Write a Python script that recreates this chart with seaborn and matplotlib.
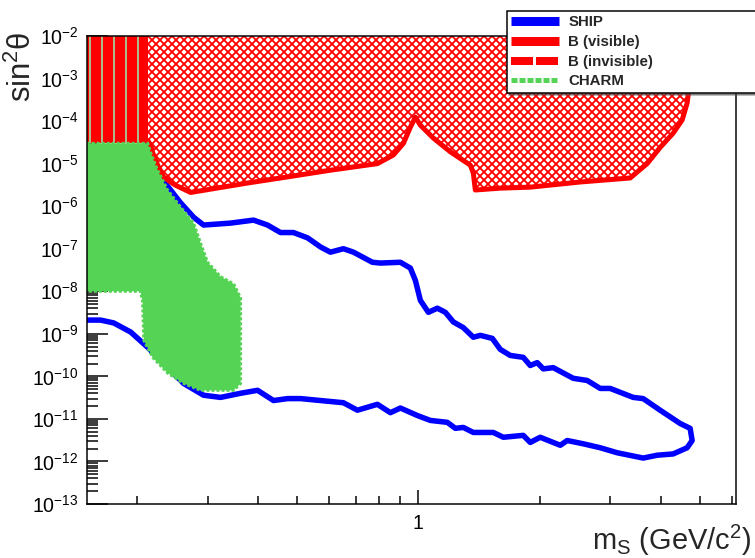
import numpy as np
import pandas as pd
import matplotlib
matplotlib.use("Agg")
import matplotlib.pyplot as plt
import seaborn as sns
from matplotlib.lines import Line2D
from matplotlib.ticker import (LogLocator, FuncFormatter, NullFormatter,
                               FixedLocator, FixedFormatter)

# SHIP sensitivity contour (closed curve: upper branch, then lower branch back)
ship_mass = [0.2127, 0.2188, 0.229, 0.2424, 0.2566, 0.2765, 0.2927, 0.3416, 0.3896, 0.422,
             0.4545, 0.4895, 0.5305, 0.5714, 0.6047, 0.6512, 0.6897, 0.7688, 0.8048, 0.9023,
             0.9553, 0.983, 1.0115, 1.0588, 1.1146, 1.1667, 1.2214, 1.2931, 1.3692, 1.4252,
             1.5262, 1.5977, 1.6916, 1.8217, 1.8961, 1.9735, 2.0424, 2.1627, 2.4244, 2.6263,
             2.8288, 2.9952, 3.4168, 3.6175, 3.9858, 4.4687, 4.7315, 4.7863,
             4.6513, 4.2937, 3.9183, 3.6175, 3.1174, 2.8288, 2.5668, 2.3427, 2.2511, 2.0075,
             1.8961, 1.8217, 1.6253, 1.535, 1.3692, 1.2931, 1.2355, 1.1801, 1.071, 0.9943,
             0.9023, 0.8522, 0.7911, 0.7056, 0.6512, 0.5714, 0.5096, 0.4731, 0.4367, 0.3986,
             0.3617, 0.3226, 0.2927, 0.2612, 0.2329, 0.2127, 0.1929, 0.1751, 0.1625, 0.15]
ship_sin2 = [3.0e-5, 1.6e-5, 4.8e-6, 2.4e-6, 1.2e-6, 5.5e-7, 3.6e-7, 4.0e-7, 4.7e-7, 3.6e-7,
             2.4e-7, 2.4e-7, 1.8e-7, 1.1e-7, 8.3e-8, 1.0e-7, 8.3e-8, 4.8e-8, 4.6e-8, 4.8e-8,
             3.5e-8, 1.8e-8, 6.1e-9, 3.2e-9, 4.0e-9, 3.2e-9, 1.9e-9, 1.4e-9, 8.3e-10, 9.2e-10,
             7.8e-10, 4.3e-10, 3.1e-10, 2.8e-10, 1.8e-10, 2.1e-10, 1.5e-10, 1.6e-10, 9.0e-11, 8.0e-11,
             5.2e-11, 5.2e-11, 3.2e-11, 3.0e-11, 1.6e-11, 7.8e-12, 6.0e-12, 3.1e-12,
             2.1e-12, 1.5e-12, 1.4e-12, 1.2e-12, 1.6e-12, 2.1e-12, 2.6e-12, 3.1e-12, 2.4e-12, 3.7e-12,
             2.8e-12, 4.1e-12, 3.7e-12, 4.8e-12, 4.8e-12, 6.3e-12, 6.0e-12, 8.3e-12, 9.2e-12, 1.2e-11,
             1.8e-11, 1.4e-11, 2.2e-11, 1.6e-11, 2.4e-11, 2.7e-11, 3.0e-11, 3.0e-11, 2.7e-11, 4.7e-11,
             4.0e-11, 3.2e-11, 3.6e-11, 6.8e-11, 2.0e-10, 4.8e-10, 1.1e-9, 1.8e-9, 2.1e-9, 2.1e-9]

# B-meson decays, visible final states (excluded region, bounded from below)
bvis_mass = [0.2127, 0.2127, 0.2163, 0.2188, 0.2251, 0.2329, 0.2494, 0.2718, 0.3763, 0.4545,
             0.6047, 0.7911, 0.867, 0.918, 0.9553, 0.983, 1.0115, 1.089, 1.2004, 1.346,
             1.3692, 1.385, 1.5977, 1.8961, 2.523, 3.358, 3.70, 3.9858, 4.2937, 4.52,
             4.6513, 4.7315, 4.7315]
bvis_sin2 = [1e-2, 3.5e-5, 2.7e-5, 1.8e-5, 9.2e-6, 4.8e-6, 3.1e-6, 2.1e-6, 3.5e-6, 4.6e-6,
             7.0e-6, 1.0e-5, 1.6e-5, 3.0e-5, 7.2e-5, 1.24e-4, 8.0e-5, 4.0e-5, 1.9e-5, 9.2e-6,
             6.0e-6, 2.4e-6, 2.65e-6, 2.8e-6, 3.7e-6, 4.6e-6, 1.0e-5, 2.4e-5, 5.2e-5, 1.06e-4,
             2.65e-4, 9.2e-4, 1e-2]

# B-meson decays, invisible final states
binv_mass = [0.15, 0.2127, 0.2127, 0.15]
binv_sin2 = [3.0e-5, 3.0e-5, 1e-2, 1e-2]

# CHARM beam-dump exclusion
charm_mass = [0.15, 0.2127, 0.2163, 0.2251, 0.2383, 0.2566, 0.2765, 0.2877, 0.2995, 0.3226,
              0.3475, 0.3617, 0.3617, 0.3475, 0.2877, 0.2612, 0.2383, 0.2188, 0.208, 0.2065,
              0.204, 0.15]
charm_sin2 = [3.0e-5, 3.0e-5, 1.8e-5, 7.0e-6, 2.4e-6, 9.5e-7, 4.0e-7, 1.35e-7, 4.8e-8, 2.2e-8,
              1.5e-8, 7.0e-9, 6.8e-11, 4.7e-11, 4.7e-11, 6.8e-11, 1.2e-10, 2.8e-10, 7.0e-10, 6.0e-9,
              1.0e-8, 1.0e-8]

legend_labels = ["SHIP", "B (visible)", "B (invisible)", "CHARM"]
x_tick_values = [1]
x_tick_labels = ["1"]
x_range = (0.15, 6.15)
y_range = (1e-13, 1e-2)

BLUE = "#0000ff"
RED = "#ff0000"
GREEN = "#55d355"

sns.set_style("ticks")
plt.rcParams["font.family"] = ["Liberation Sans", "DejaVu Sans"]
plt.rcParams["mathtext.fontset"] = "custom"
plt.rcParams["mathtext.rm"] = "Liberation Sans"
plt.rcParams["mathtext.it"] = "Liberation Sans:italic"
plt.rcParams["mathtext.bf"] = "Liberation Sans:bold"
plt.rcParams["hatch.linewidth"] = 1.8
plt.rcParams["lines.scale_dashes"] = False

DPI = 72
fig = plt.figure(figsize=(755 / DPI, 558 / DPI), dpi=DPI)
ax = fig.add_axes([0.1148, 0.0968, 0.86, 0.8387])
ax.set_xscale("log")
ax.set_yscale("log")
ax.set_axisbelow(True)

# SHIP contour
ship_df = pd.DataFrame({"mass": ship_mass, "sin2": ship_sin2})
sns.lineplot(data=ship_df, x="mass", y="sin2", sort=False, estimator=None,
             color=BLUE, lw=5.5, ax=ax, zorder=1.5)

# B (visible): finely hatched area with a solid lower boundary
ax.fill(bvis_mass, bvis_sin2, facecolor="white", edgecolor=RED, hatch="xxx",
        lw=0, zorder=1.6)
ax.plot(bvis_mass[1:-1], bvis_sin2[1:-1], color=RED, lw=5,
        solid_joinstyle="round", zorder=1.7)

# B (invisible): vertically striped band
ax.fill(binv_mass, binv_sin2, facecolor=RED, edgecolor="#a8cf98", hatch="|",
        lw=0, zorder=1.8)

# CHARM
ax.fill(charm_mass, charm_sin2, facecolor=GREEN, edgecolor=GREEN, lw=3,
        ls=(0, (3, 2)), zorder=1.9)

ax.set_xlim(*x_range)
ax.set_ylim(*y_range)

ax.xaxis.set_major_locator(FixedLocator(x_tick_values))
ax.xaxis.set_major_formatter(FixedFormatter(x_tick_labels))
ax.xaxis.set_minor_locator(LogLocator(base=10, subs=np.arange(2, 10), numticks=30))
ax.xaxis.set_minor_formatter(NullFormatter())

ax.yaxis.set_major_locator(LogLocator(base=10, numticks=30))
ax.yaxis.set_major_formatter(FuncFormatter(
    lambda v, _: r"$\mathregular{10^{%d}}$" % int(round(np.log10(v)))))
ax.yaxis.set_minor_locator(LogLocator(base=10, subs=np.arange(2, 10), numticks=30))
ax.yaxis.set_minor_formatter(NullFormatter())

ax.tick_params(axis="both", which="both", direction="in", top=False, right=False,
               width=1.5, color="black", labelsize=19.5, labelcolor="black")
ax.tick_params(axis="y", which="major", length=21, pad=8)
ax.tick_params(axis="y", which="minor", length=11)
ax.tick_params(axis="x", which="major", length=14, pad=10)
ax.tick_params(axis="x", which="minor", length=8)

for side in ["left", "bottom", "top", "right"]:
    ax.spines[side].set_color("black")
    ax.spines[side].set_linewidth(1.5)

ax.set_xlabel(r"m$_{\mathregular{S}}$ (GeV/c$^{\mathregular{2}}$)", fontsize=29, loc="right")
ax.xaxis.set_label_coords(1.024, -0.04)
ax.set_ylabel("sin$^{\\mathregular{2}}$θ", fontsize=31, loc="top")
ax.yaxis.set_label_coords(-0.075, 1.01)

handles = [
    Line2D([], [], color=BLUE, lw=9, solid_capstyle="butt"),
    Line2D([], [], color=RED, lw=9, solid_capstyle="butt"),
    Line2D([], [], color=RED, lw=8, dashes=(22, 3), dash_capstyle="butt"),
    Line2D([], [], color=GREEN, lw=5, dashes=(6, 2), dash_capstyle="butt"),
]
leg = fig.legend(handles, legend_labels, loc="upper left",
                 bbox_to_anchor=(0.6715, 0.5, 0.45, 0.4805), mode="expand",
                 borderaxespad=0, frameon=True, fancybox=False, shadow=True,
                 edgecolor="black", framealpha=1,
                 prop={"weight": "bold", "size": 15},
                 handlelength=3.2, handletextpad=0.6, labelspacing=0.38, borderpad=0.3)
leg.get_frame().set_linewidth(1.5)

fig.savefig("out.png", dpi=DPI)
